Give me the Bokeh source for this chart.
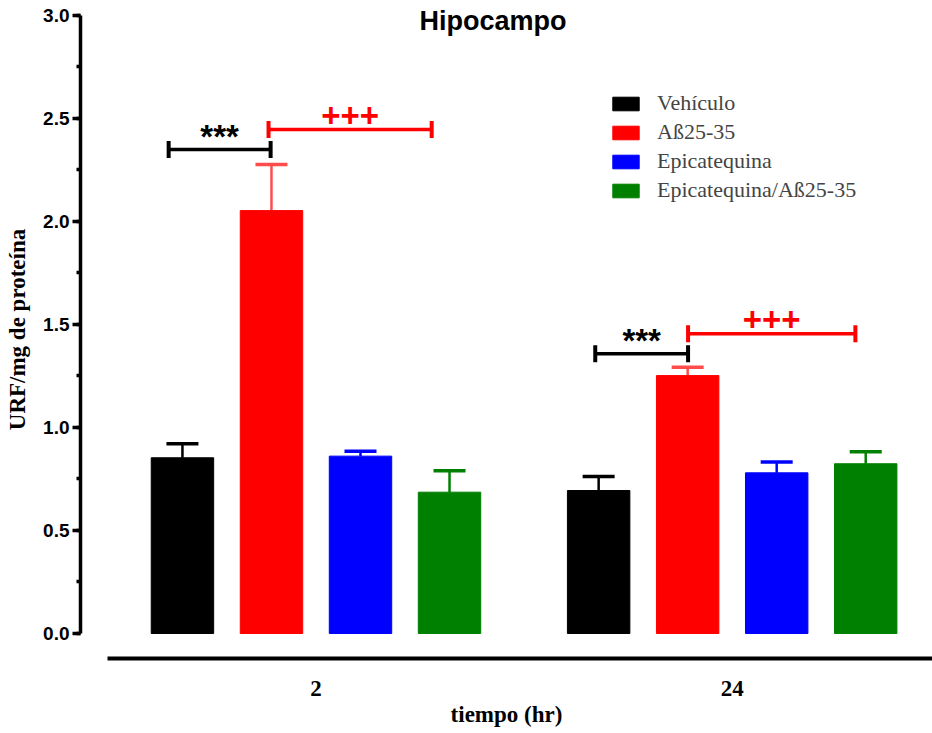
from bokeh.plotting import figure
from bokeh.models import (Range1d, SingleIntervalTicker, FixedTicker, Whisker, TeeHead,
                          ColumnDataSource, Legend, LegendItem, Label, PrintfTickFormatter)
from bokeh.core.properties import value
from bokeh.embed import file_html
from bokeh.resources import INLINE

# ---------------- data ----------------
tiempo = ["2", "24"]
grupos = ["Vehículo", "Aß25-35", "Epicatequina", "Epicatequina/Aß25-35"]
colores = ["#000000", "#ff0000", "#0000ff", "#008000"]
colores_error = ["#000000", "#ff4d4d", "#0000ff", "#008000"]

vehiculo = [0.853, 0.694]
abeta = [2.053, 1.252]
epicatequina = [0.861, 0.780]
epi_abeta = [0.686, 0.824]

vehiculo_sem = [0.068, 0.068]
abeta_sem = [0.224, 0.041]
epicatequina_sem = [0.024, 0.053]
epi_abeta_sem = [0.104, 0.058]

# significance brackets (x in group units, y in URF/mg)
sig_x0 = [-0.354, -0.114, 0.671, 0.894]
sig_x1 = [-0.109, 0.278, 0.894, 1.296]
sig_y = [2.350, 2.447, 1.358, 1.455]
sig_text = ["***", "+++", "***", "+++"]
sig_color = ["#000000", "#ff0000", "#000000", "#ff0000"]

medias = [vehiculo, abeta, epicatequina, epi_abeta]
sems = [vehiculo_sem, abeta_sem, epicatequina_sem, epi_abeta_sem]

# ---------------- layout ----------------
pitch = 0.2139
bar_w = 0.150

p = figure(width=932, height=733,
           x_range=Range1d(-0.5658, 1.4813), y_range=Range1d(-0.1214, 3.0728),
           output_backend="svg", toolbar_location=None,
           min_border_left=80, min_border_top=0, min_border_right=0, min_border_bottom=75)
p.outline_line_color = None
p.xgrid.visible = False
p.ygrid.visible = False
p.background_fill_color = "white"

renderers = []
for i, (vals, errs) in enumerate(zip(medias, sems)):
    xs = [g + (i - 1.5) * pitch for g in range(len(tiempo))]
    src = ColumnDataSource(dict(x=xs, top=vals, upper=[v + e for v, e in zip(vals, errs)]))
    r = p.vbar(x="x", top="top", width=bar_w, bottom=0, source=src,
               fill_color=colores[i], line_color=colores[i], line_width=1)
    renderers.append(r)
    w = Whisker(source=src, base="x", upper="upper", lower="top", dimension="height",
                line_color=colores_error[i], line_width=2.5, lower_head=None,
                upper_head=TeeHead(size=32, line_color=colores_error[i], line_width=3.5))
    p.add_layout(w)

# brackets and their marks
for col, off in [("#000000", -13), ("#ff0000", -14)]:
    idx = [k for k, c in enumerate(sig_color) if c == col]
    bsrc = ColumnDataSource(dict(y=[sig_y[k] for k in idx],
                                 x0=[sig_x0[k] for k in idx],
                                 x1=[sig_x1[k] for k in idx],
                                 xm=[(sig_x0[k] + sig_x1[k]) / 2 for k in idx],
                                 text=[sig_text[k] for k in idx]))
    b = Whisker(source=bsrc, base="y", lower="x0", upper="x1", dimension="width",
                line_color=col, line_width=3.5,
                lower_head=TeeHead(size=17, line_color=col, line_width=4),
                upper_head=TeeHead(size=17, line_color=col, line_width=4))
    p.add_layout(b)
    p.text(x="xm", y="y", text="text", source=bsrc, text_color=col,
           text_font=value("Liberation Sans"), text_font_style="bold", text_font_size="33px",
           text_align="center", text_baseline="alphabetic", y_offset=off)

# axes
ya = p.yaxis[0]
ya.bounds = (0, 3)
ya.ticker = SingleIntervalTicker(interval=0.5, num_minor_ticks=2)
ya.formatter = PrintfTickFormatter(format="%.1f")
ya.axis_line_width = 3.5
ya.major_tick_line_width = 3.5
ya.minor_tick_line_width = 3.5
ya.major_tick_out = 8
ya.major_tick_in = 0
ya.minor_tick_out = 4
ya.minor_tick_in = 0
ya.major_label_standoff = 3
ya.major_label_text_font = "Liberation Sans"
ya.major_label_text_font_style = "bold"
ya.major_label_text_font_size = "19px"
ya.major_label_text_color = "black"
ya.axis_label = "URF/mg de proteína"
ya.axis_label_standoff = 10
ya.axis_label_text_font = "Liberation Serif"
ya.axis_label_text_font_style = "bold"
ya.axis_label_text_font_size = "23px"
ya.axis_label_text_color = "black"

xa = p.xaxis[0]
xa.bounds = (-0.5, 1.5)
xa.ticker = FixedTicker(ticks=list(range(len(tiempo))), minor_ticks=[])
xa.major_label_overrides = {i: t for i, t in enumerate(tiempo)}
xa.axis_line_width = 4
xa.major_tick_out = 0
xa.major_tick_in = 0
xa.major_tick_line_color = None
xa.major_label_standoff = 22
xa.major_label_text_font = "Liberation Serif"
xa.major_label_text_font_style = "bold"
xa.major_label_text_font_size = "23px"
xa.major_label_text_color = "black"
xa.axis_label = "tiempo (hr)"
xa.axis_label_standoff = 3
xa.axis_label_text_font = "Liberation Serif"
xa.axis_label_text_font_style = "bold"
xa.axis_label_text_font_size = "23px"
xa.axis_label_text_color = "black"

# title inside the frame, above the 3.0 tick
p.add_layout(Label(x=0.4253, y=2.971, text="Hipocampo", text_font="Liberation Sans",
                   text_font_style="bold", text_font_size="27px", text_align="center",
                   text_baseline="middle", text_color="black"))

legend = Legend(items=[LegendItem(label=g, renderers=[r]) for g, r in zip(grupos, renderers)],
                location=(529, 455), glyph_width=33, glyph_height=17, label_standoff=15,
                label_text_font="Liberation Serif", label_text_font_size="22px",
                label_height=20, spacing=3, padding=0, margin=0,
                border_line_color=None, background_fill_alpha=0)
p.add_layout(legend)

open("out.html", "w").write(file_html(p, INLINE))
